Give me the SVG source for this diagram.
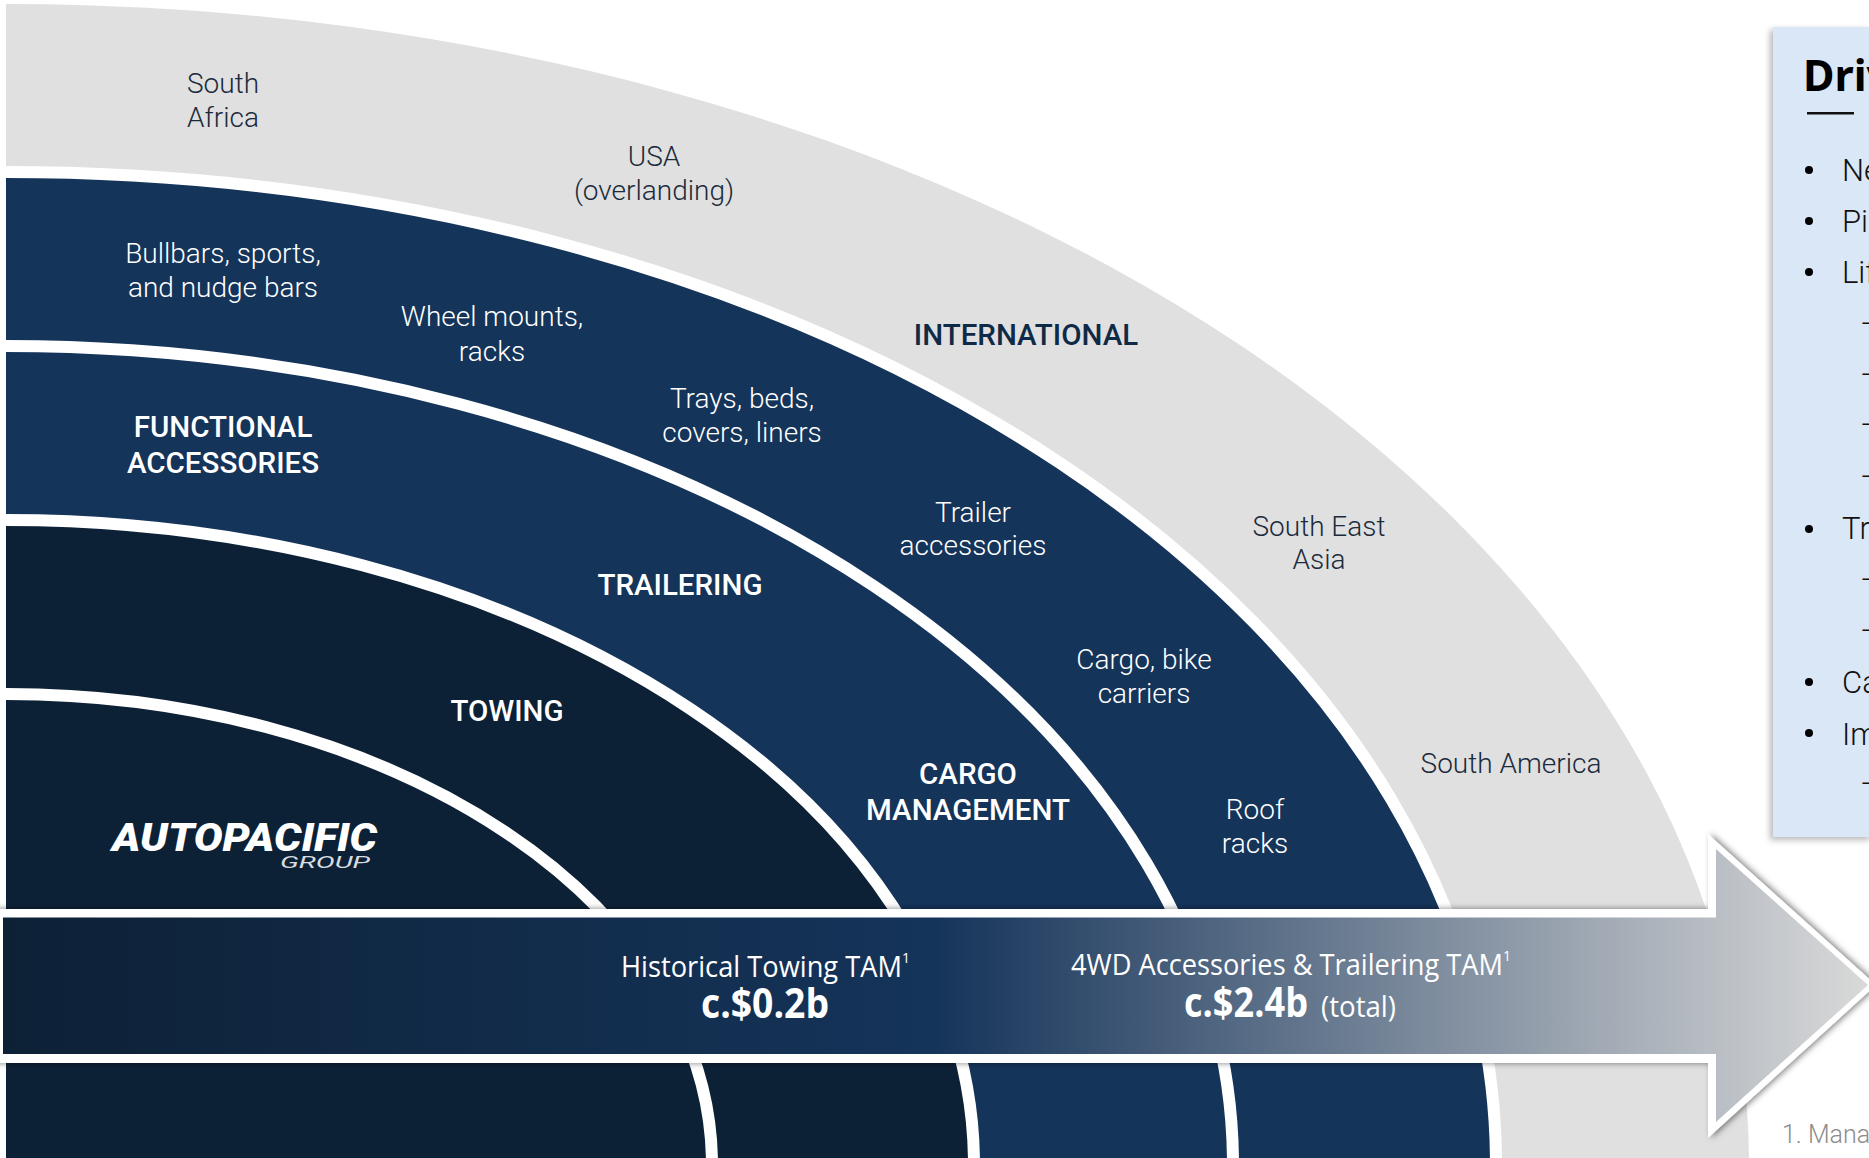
<svg xmlns="http://www.w3.org/2000/svg" width="1869" height="1158" viewBox="0 0 1869 1158">
<style>
.l{font-family:"Roboto","Liberation Sans",sans-serif;font-weight:300;font-size:28px;text-anchor:middle}
.b{font-family:"Roboto","Liberation Sans",sans-serif;font-weight:500;font-size:29.5px;text-anchor:middle}
.w{fill:#fff}.d{fill:#1b2b3c}.n{fill:#0f2a47}
.a{font-family:"Open Sans","Noto Sans",sans-serif;fill:#fff}
.band{stroke:#fff;stroke-width:12}
.p{font-family:"Roboto","Liberation Sans",sans-serif;font-weight:300;font-size:31px;fill:#111}
.bu{fill:#000}
</style>
<defs>
<clipPath id="c"><rect x="6" y="0" width="1863" height="1158"/></clipPath>
<linearGradient id="g" gradientUnits="userSpaceOnUse" x1="3" y1="0" x2="1868" y2="0">
<stop offset="0" stop-color="#0d2136"/><stop offset="0.5" stop-color="#15345a"/><stop offset="1" stop-color="#d9d9d9"/>
</linearGradient>
<filter id="s" x="-5%" y="-20%" width="110%" height="140%"><feDropShadow dx="3" dy="0" stdDeviation="3" flood-color="#000" flood-opacity="0.5"/></filter>
<filter id="ps" x="-10%" y="-5%" width="120%" height="110%"><feDropShadow dx="-3" dy="3" stdDeviation="3" flood-color="#000" flood-opacity="0.28"/></filter>
</defs>
<rect width="1869" height="1158" fill="#fff"/>
<g clip-path="url(#c)">
<g id="international"><ellipse cx="6" cy="1165" rx="1743" ry="1161" fill="#e0e0e0"/></g>
<g id="functional"><ellipse class="band" cx="6" cy="1165" rx="1490" ry="993" fill="#15345a"/></g>
<g id="cargo"><ellipse class="band" cx="6" cy="1165" rx="1227" ry="819" fill="#15345a"/></g>
<g id="towing"><ellipse class="band" cx="6" cy="1165" rx="968" ry="645" fill="#0d2136"/></g>
<g id="core"><ellipse class="band" cx="6" cy="1165" rx="706" ry="471" fill="#0d2136"/></g>
</g>
<g id="panel">
<rect x="1773" y="27" width="100" height="810" fill="#dae7f7" filter="url(#ps)"/>
<text x="1803" y="91" font-family="Noto Sans,Open Sans,sans-serif" font-weight="700" font-size="43" fill="#000">Driv</text>
<rect x="1807" y="112" width="47" height="2.5" fill="#111"/>
<g class="bu"><circle cx="1809" cy="170" r="4"/><circle cx="1809" cy="221" r="4"/><circle cx="1809" cy="272" r="4"/><circle cx="1809" cy="529" r="4"/><circle cx="1809" cy="682" r="4"/><circle cx="1809" cy="733" r="4"/></g>
<text class="p" x="1842" y="181">Ne</text><text class="p" x="1842" y="232">Pic</text><text class="p" x="1842" y="283">Lif</text>
<text class="p" x="1860" y="335">–</text><text class="p" x="1860" y="386">–</text><text class="p" x="1860" y="436">–</text><text class="p" x="1860" y="488">–</text>
<text class="p" x="1842" y="539">Tr</text>
<text class="p" x="1860" y="591">–</text><text class="p" x="1860" y="642">–</text>
<text class="p" x="1842" y="693">Ca</text><text class="p" x="1842" y="745">Im</text>
<text class="p" x="1860" y="795">–</text>
</g>
<g id="arrow">
<polygon points="-10,909 1708,909 1708,834 1876,985 1708,1138 1708,1063 -10,1063" fill="#fff" filter="url(#s)"/>
<polygon points="3,917.5 1716,917.5 1716,849 1868,985 1716,1122 1716,1054 3,1054" fill="url(#g)"/>
<text class="a" x="621" y="977" font-size="29" font-weight="400" textLength="281" lengthAdjust="spacingAndGlyphs">Historical Towing TAM</text>
<text class="a" x="902" y="963" font-size="14" font-weight="400">1</text>
<text class="a" x="701" y="1018" font-size="41" font-weight="700" textLength="128" lengthAdjust="spacingAndGlyphs">c.$0.2b</text>
<text class="a" x="1071" y="975" font-size="29" font-weight="400" textLength="432" lengthAdjust="spacingAndGlyphs">4WD Accessories &amp; Trailering TAM</text>
<text class="a" x="1503" y="961" font-size="14" font-weight="400">1</text>
<text class="a" x="1184" y="1017" font-size="41" font-weight="700" textLength="124" lengthAdjust="spacingAndGlyphs">c.$2.4b</text>
<text class="a" x="1321" y="1017" font-size="29" font-weight="400" textLength="75" lengthAdjust="spacingAndGlyphs">(total)</text>
</g>
<g id="labels">
<text class="l d" x="223" y="93">South</text><text class="l d" x="223" y="127">Africa</text>
<text class="l d" x="654" y="166">USA</text><text class="l d" x="654" y="200">(overlanding)</text>
<text class="b n" x="1026" y="345">INTERNATIONAL</text>
<text class="l d" x="1319" y="536">South East</text><text class="l d" x="1319" y="569">Asia</text>
<text class="l d" x="1511" y="773">South America</text>
<text class="l w" x="223" y="263">Bullbars, sports,</text><text class="l w" x="223" y="297">and nudge bars</text>
<text class="l w" x="492" y="326">Wheel mounts,</text><text class="l w" x="492" y="361">racks</text>
<text class="l w" x="742" y="408">Trays, beds,</text><text class="l w" x="742" y="442">covers, liners</text>
<text class="l w" x="973" y="522">Trailer</text><text class="l w" x="973" y="555">accessories</text>
<text class="l w" x="1144" y="669">Cargo, bike</text><text class="l w" x="1144" y="703">carriers</text>
<text class="l w" x="1255" y="819">Roof</text><text class="l w" x="1255" y="853">racks</text>
<text class="b w" x="223" y="437">FUNCTIONAL</text><text class="b w" x="223" y="473">ACCESSORIES</text>
<text class="b w" x="680" y="595">TRAILERING</text>
<text class="b w" x="507" y="721">TOWING</text>
<text class="b w" x="968" y="784">CARGO</text><text class="b w" x="968" y="820">MANAGEMENT</text>
</g>
<g id="logo">
<text x="112" y="851" font-family="Roboto,sans-serif" font-weight="900" font-style="italic" font-size="39" fill="#fff" textLength="265" lengthAdjust="spacingAndGlyphs">AUTOPACIFIC</text>
<text x="280" y="868" font-family="Roboto,sans-serif" font-weight="400" font-style="italic" font-size="17" fill="#d8dde2" textLength="90" lengthAdjust="spacingAndGlyphs">GROUP</text>
</g>
<text id="footnote" x="1782" y="1143" font-family="Roboto,sans-serif" font-weight="300" font-size="25" fill="#8c8c8c">1. Manag</text>
</svg>
